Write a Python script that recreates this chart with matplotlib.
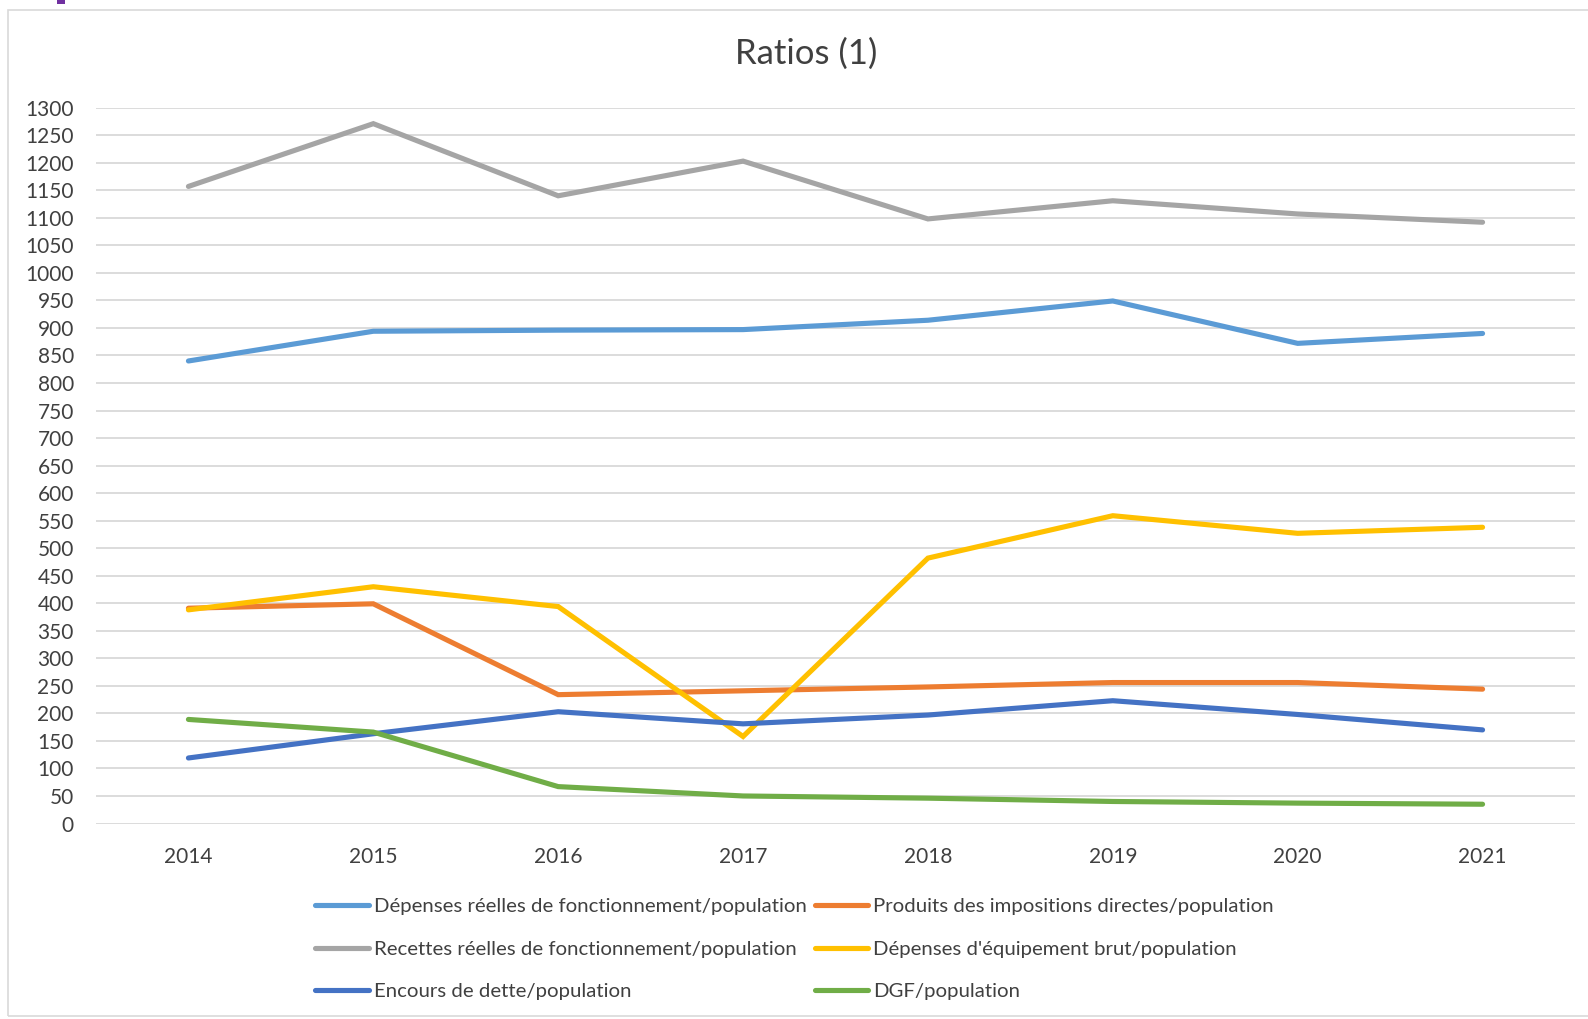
import matplotlib
matplotlib.use("Agg")
import matplotlib.pyplot as plt
from matplotlib.patches import Rectangle

years = ["2014", "2015", "2016", "2017", "2018", "2019", "2020", "2021"]
dep_fonct = [840, 894, 896, 897, 914, 949, 872, 890]
prod_impo = [391, 399, 234, 241, 248, 256, 256, 244]
rec_fonct = [1157, 1271, 1140, 1203, 1098, 1131, 1107, 1092]
dep_equip = [388, 430, 394, 158, 482, 559, 527, 538]
encours = [119, 163, 203, 181, 197, 223, 198, 170]
dgf = [189, 166, 67, 50, 46, 40, 37, 35]

series = [
    ("Dépenses réelles de fonctionnement/population", dep_fonct, "#5B9BD5"),
    ("Produits des impositions directes/population", prod_impo, "#ED7D31"),
    ("Recettes réelles de fonctionnement/population", rec_fonct, "#A5A5A5"),
    ("Dépenses d'équipement brut/population", dep_equip, "#FFC000"),
    ("Encours de dette/population", encours, "#4472C4"),
    ("DGF/population", dgf, "#70AD47"),
]
yticks = list(range(0, 1301, 50))

plt.rcParams['font.family'] = ['Lato', 'DejaVu Sans']

W, H = 1588, 1019
fig = plt.figure(figsize=(W / 100, H / 100), dpi=100)
ax = fig.add_axes([96 / W, 1 - 823.5 / H, (1575 - 96) / W, (823.5 - 107.7) / H])

x = list(range(len(years)))
for i, (name, vals, col) in enumerate(series):
    ax.plot(x, vals, color=col, lw=3.7, solid_capstyle='round', solid_joinstyle='miter',
            label=name, zorder=3 + i)

ax.set_xlim(-0.5, len(years) - 0.5)
ax.set_ylim(0, 1300)
ax.set_yticks(yticks)
ax.set_yticklabels([str(v) for v in yticks], fontsize=15, color="#404040")
ax.set_xticks(x)
ax.set_xticklabels(years, fontsize=15, color="#404040")
ax.tick_params(axis='both', length=0)
ax.tick_params(axis='y', pad=16)
ax.tick_params(axis='x', pad=17)
ax.grid(axis='y', color="#d9d9d9", lw=1.3, zorder=0)
for s in ax.spines.values():
    s.set_visible(False)

fig.text(806 / W, 1 - 54 / H, "Ratios (1)", fontsize=25, color="#404040",
         ha='center', va='center')

# chart border
fig.patches.append(Rectangle((8 / W, 1 - 1016 / H), (1600 - 8) / W, (1016 - 10) / H,
                             transform=fig.transFigure, fill=False,
                             edgecolor="#d9d9d9", lw=1.2))
fig.patches.append(Rectangle((57 / W, 1 - 4 / H), 8 / W, 4 / H,
                             transform=fig.transFigure, facecolor="#7030A0",
                             edgecolor="none"))

handles, labels = ax.get_legend_handles_labels()
order = [0, 2, 4, 1, 3, 5]
leg = fig.legend([handles[i] for i in order], [labels[i] for i in order],
                 loc='center', bbox_to_anchor=(794.5 / W, 1 - 949 / H), ncol=2,
                 frameon=False, fontsize=14.7, handlelength=2.6, handletextpad=0.25,
                 columnspacing=0.4, labelspacing=1.23, borderpad=0)
for t in leg.get_texts():
    t.set_color("#404040")

fig.savefig("out.png", dpi=100)
